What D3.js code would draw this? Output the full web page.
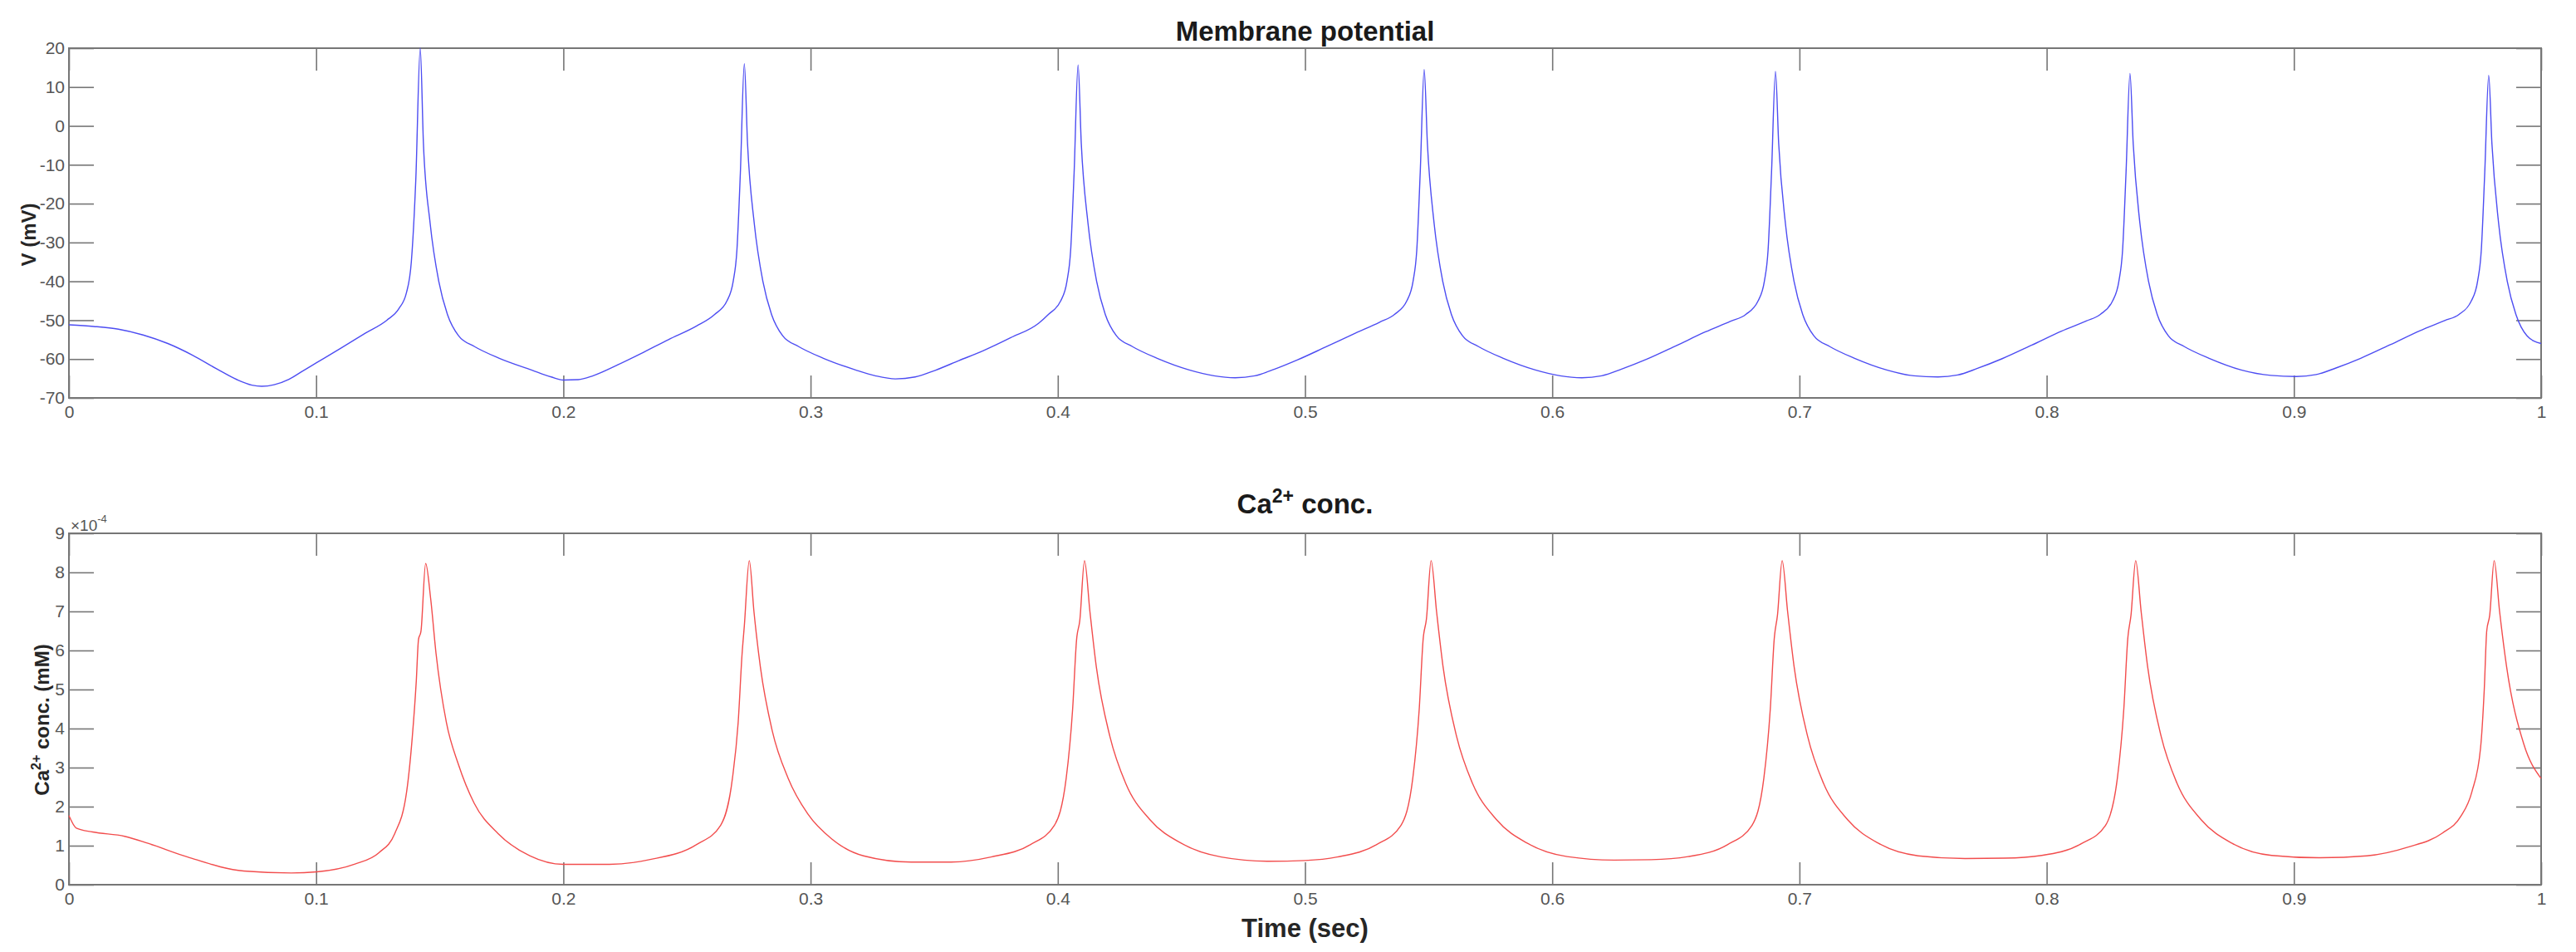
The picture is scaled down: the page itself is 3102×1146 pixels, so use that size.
<!DOCTYPE html>
<html>
<head>
<meta charset="utf-8">
<script src="https://cdn.jsdelivr.net/npm/d3@7"></script>
<style>
  html, body { margin: 0; padding: 0; background: #ffffff; }
  svg { display: block; }
  text { font-family: "Liberation Sans", Arial, Helvetica, sans-serif; }
</style>
</head>
<body>
<svg id="chart" width="3102" height="1146"></svg>
<script>
// ---------------- data ----------------
const xTickValues = [0, 0.1, 0.2, 0.3, 0.4, 0.5, 0.6, 0.7, 0.8, 0.9, 1];
const xTickLabels = ["0", "0.1", "0.2", "0.3", "0.4", "0.5", "0.6", "0.7", "0.8", "0.9", "1"];
const vTickValues = [-70, -60, -50, -40, -30, -20, -10, 0, 10, 20];
const vTickLabels = ["-70", "-60", "-50", "-40", "-30", "-20", "-10", "0", "10", "20"];
const caTickValues = [0, 1, 2, 3, 4, 5, 6, 7, 8, 9];
const caTickLabels = ["0", "1", "2", "3", "4", "5", "6", "7", "8", "9"];

// Membrane potential: time (s) and V (mV)
const timeV = [
  0, 0.01, 0.02, 0.03, 0.04, 0.05, 0.06, 0.068, 0.074, 0.078, 0.083, 0.089, 0.095, 0.1, 0.11, 0.12,
  0.1286, 0.1335, 0.1365, 0.1385, 0.1403, 0.1421,
  0.1434, 0.1461, 0.1496, 0.1531, 0.1576, 0.1641, 0.1741, 0.1871, 0.1951, 0.2, 0.206,
  0.212, 0.222, 0.2314, 0.2425, 0.2539, 0.2612, 0.2662, 0.2687, 0.2702, 0.2716, 0.2732,
  0.2745, 0.2772, 0.2807, 0.2842, 0.2887, 0.2952, 0.3052, 0.3182, 0.3262, 0.3343,
  0.3423, 0.3504, 0.36, 0.3697, 0.381, 0.3922, 0.3962, 0.4012, 0.4037, 0.4052, 0.4066, 0.4082,
  0.4095, 0.4122, 0.4157, 0.4192, 0.4237, 0.4302, 0.4402, 0.4532, 0.4632, 0.4717,
  0.4797, 0.4877, 0.497, 0.508, 0.5205, 0.5302, 0.5362, 0.5412, 0.5437, 0.5452, 0.5466, 0.5482,
  0.5495, 0.5522, 0.5557, 0.5592, 0.5637, 0.5702, 0.5802, 0.5932, 0.6032, 0.612,
  0.620, 0.628, 0.638, 0.650, 0.662, 0.672, 0.6783, 0.6833, 0.6858, 0.6873, 0.6887, 0.6903,
  0.6916, 0.6943, 0.6978, 0.7013, 0.7058, 0.7123, 0.7223, 0.7353, 0.7463, 0.756,
  0.764, 0.772, 0.782, 0.794, 0.806, 0.816, 0.8217, 0.8267, 0.8292, 0.8307, 0.8321, 0.8337,
  0.835, 0.8377, 0.8412, 0.8447, 0.8492, 0.8557, 0.8657, 0.8787, 0.8907, 0.901,
  0.909, 0.917, 0.927, 0.939, 0.951, 0.961, 0.9668, 0.9718, 0.9743, 0.9758, 0.9772, 0.9788,
  0.9801, 0.9828, 0.9863, 0.9898, 0.9943, 1.0
];
const membraneV = [
  -51.2, -51.6, -52.3, -53.8, -56.0, -59.0, -62.6, -65.3, -66.7, -67.0, -66.6, -65.2, -62.9, -61.0, -57.2, -53.3,
  -50.0, -47.0, -43.0, -35.0, -14.0, 20.0,
  -4.6, -25.0, -40.0, -48.5, -54.0, -56.8, -59.8, -62.8, -64.6, -65.4, -65.3,
  -64.3, -61.5, -58.6, -55.0, -51.5, -48.5, -45.0, -40.0, -32.0, -12.0, 16.0,
  -4.6, -25.0, -40.0, -48.5, -54.0, -56.8, -59.8, -62.8, -64.3, -65.1,
  -64.6, -62.9, -60.4, -57.9, -54.5, -50.8, -48.5, -45.0, -40.0, -32.0, -12.0, 15.7,
  -4.6, -25.0, -40.0, -48.5, -54.0, -56.8, -59.8, -62.8, -64.3, -64.8,
  -64.3, -62.6, -60.2, -57.0, -53.3, -50.5, -48.5, -45.0, -40.0, -32.0, -12.0, 14.5,
  -4.6, -25.0, -40.0, -48.5, -54.0, -56.8, -59.8, -62.8, -64.3, -64.8,
  -64.3, -62.6, -60.1, -56.6, -53.0, -50.3, -48.5, -45.0, -40.0, -32.0, -12.0, 14.0,
  -4.6, -25.0, -40.0, -48.5, -54.0, -56.8, -59.8, -62.8, -64.3, -64.6,
  -64.1, -62.4, -59.9, -56.4, -52.8, -50.2, -48.5, -45.0, -40.0, -32.0, -12.0, 13.5,
  -4.6, -25.0, -40.0, -48.5, -54.0, -56.8, -59.8, -62.8, -64.2, -64.5,
  -64.0, -62.3, -59.8, -56.3, -52.7, -50.1, -48.5, -45.0, -40.0, -32.0, -12.0, 13.0,
  -4.6, -25.0, -40.0, -48.5, -54.0, -56.0
];

// Ca2+ concentration: time (s) and value (x 1e-4 mM)
const timeCa = [
  0, 0.003, 0.0096, 0.0225, 0.032, 0.048, 0.0707, 0.09, 0.1003, 0.1157, 0.1254, 0.1318, 0.1366, 0.1389,
  0.1405, 0.1414, 0.1424, 0.1443, 0.1463, 0.1485, 0.1527, 0.1575, 0.1639, 0.1736, 0.1864, 0.2, 0.2186,
  0.2347, 0.2539, 0.2636, 0.2684, 0.2707, 0.2723, 0.2732, 0.2752, 0.2771, 0.2797, 0.2845, 0.2909, 0.2989,
  0.3086, 0.3214, 0.3407, 0.3568, 0.373, 0.389, 0.3986, 0.4034, 0.406, 0.4076, 0.4089, 0.4108, 0.413,
  0.4156, 0.4211, 0.4275, 0.4372, 0.45, 0.4661, 0.4854, 0.5, 0.513, 0.529, 0.5388, 0.5436, 0.5462, 0.5478,
  0.5491, 0.551, 0.5532, 0.5558, 0.5613, 0.5677, 0.5774, 0.590, 0.606, 0.625, 0.640, 0.655, 0.671, 0.6808,
  0.6856, 0.6882, 0.6898, 0.6911, 0.693, 0.6952, 0.6978, 0.7033, 0.7097, 0.7194, 0.732, 0.748, 0.767, 0.783,
  0.798, 0.814, 0.8238, 0.8286, 0.8312, 0.8328, 0.8341, 0.836, 0.8382, 0.8408, 0.8463, 0.8527, 0.8624,
  0.875, 0.891, 0.910, 0.9295, 0.946, 0.960, 0.9674, 0.972, 0.9755, 0.977, 0.978, 0.9792, 0.981, 0.9832,
  0.986, 0.993, 1.0
];
const caConc = [
  1.77, 1.45, 1.35, 1.24, 1.06, 0.71, 0.35, 0.30, 0.33, 0.53, 0.82, 1.31, 2.38, 3.79,
  5.21, 6.28, 6.49, 8.23, 7.34, 5.92, 4.15, 3.09, 2.09, 1.31, 0.74, 0.52, 0.52,
  0.64, 1.03, 1.52, 2.73, 4.15, 5.92, 6.63, 8.30, 6.99, 5.57, 3.94, 2.73, 1.81,
  1.17, 0.74, 0.58, 0.58, 0.71, 1.03, 1.52, 2.73, 4.50, 6.28, 6.77, 8.30, 6.99,
  5.57, 3.79, 2.59, 1.67, 1.06, 0.71, 0.60, 0.62, 0.71, 1.03, 1.52, 2.73, 4.50, 6.30,
  6.80, 8.30, 7.00, 5.60, 3.80, 2.60, 1.67, 1.06, 0.72, 0.63, 0.64, 0.72, 1.03, 1.52,
  2.73, 4.50, 6.30, 6.90, 8.30, 7.00, 5.60, 3.80, 2.60, 1.67, 1.06, 0.74, 0.67, 0.68,
  0.75, 1.05, 1.52, 2.73, 4.50, 6.30, 6.90, 8.30, 7.00, 5.60, 3.80, 2.60, 1.67,
  1.06, 0.75, 0.69, 0.74, 0.96, 1.32, 1.74, 2.38, 3.50, 5.00, 6.50, 6.90, 8.30, 7.00,
  5.60, 3.60, 2.72
];

// ---------------- drawing ----------------
const svg = d3.select("#chart");
const X0 = 83, X1 = 3060;
const axisColor = "#767676";
const labelColor = "#555555";

const xScale = d3.scaleLinear().domain([0, 1]).range([X0, X1]);

function drawPanel(cfg) {
  const y = d3.scaleLinear().domain(cfg.domain).range([cfg.yBottom, cfg.yTop]);
  const g = svg.append("g");

  const gb = g.append("g").attr("transform", `translate(0,${cfg.yBottom})`)
    .call(d3.axisBottom(xScale).tickValues(xTickValues).tickSizeInner(-27).tickSizeOuter(0)
      .tickPadding(9).tickFormat((d, i) => xTickLabels[i]));
  const gt = g.append("g").attr("transform", `translate(0,${cfg.yTop})`)
    .call(d3.axisTop(xScale).tickValues(xTickValues).tickSizeInner(-27).tickSizeOuter(0).tickFormat(""));
  const gl = g.append("g").attr("transform", `translate(${X0},0)`)
    .call(d3.axisLeft(y).tickValues(cfg.ticks).tickSizeInner(-30).tickSizeOuter(0)
      .tickPadding(5).tickFormat((d, i) => cfg.tickLabels[i]));
  const gr = g.append("g").attr("transform", `translate(${X1},0)`)
    .call(d3.axisRight(y).tickValues(cfg.ticks).tickSizeInner(-30).tickSizeOuter(0).tickFormat(""));

  [gb, gt, gl, gr].forEach(a => {
    a.select(".domain").remove();
    a.selectAll(".tick line").attr("stroke", axisColor).attr("stroke-width", 1.6);
    a.selectAll(".tick text").attr("fill", labelColor).style("font-size", "21px")
      .style("font-family", "'Liberation Sans', Arial, sans-serif");
  });

  g.append("rect").attr("x", X0).attr("y", cfg.yTop)
    .attr("width", X1 - X0).attr("height", cfg.yBottom - cfg.yTop)
    .attr("fill", "none").attr("stroke", axisColor).attr("stroke-width", 2);

  const pts = cfg.t.map((t, i) => [t, cfg.v[i]]);
  g.append("path").datum(pts)
    .attr("fill", "none").attr("stroke", cfg.color).attr("stroke-width", 1.4)
    .attr("stroke-linejoin", "round")
    .attr("d", d3.line().x(d => xScale(d[0])).y(d => y(d[1])).curve(d3.curveMonotoneX));

  return { g, y };
}

// Top panel: membrane potential
drawPanel({
  yTop: 58, yBottom: 479, domain: [-70, 20], ticks: vTickValues, tickLabels: vTickLabels,
  t: timeV, v: membraneV, color: "#4d4df2"
});
svg.append("text").attr("x", (X0 + X1) / 2).attr("y", 49)
  .attr("text-anchor", "middle").attr("font-weight", "bold").attr("font-size", 33)
  .attr("fill", "#1a1a1a").text("Membrane potential");
svg.append("text")
  .attr("transform", `translate(43,${(58 + 479) / 2 + 14}) rotate(-90)`)
  .attr("text-anchor", "middle").attr("font-weight", "bold").attr("font-size", 24)
  .attr("fill", "#262626").text("V (mV)");

// Bottom panel: Ca2+ concentration
drawPanel({
  yTop: 642, yBottom: 1065, domain: [0, 9], ticks: caTickValues, tickLabels: caTickLabels,
  t: timeCa, v: caConc, color: "#f24d4d"
});
const t2 = svg.append("text").attr("x", (X0 + X1) / 2).attr("y", 618)
  .attr("text-anchor", "middle").attr("font-weight", "bold").attr("font-size", 33)
  .attr("fill", "#1a1a1a");
t2.append("tspan").text("Ca");
t2.append("tspan").attr("dy", -13).attr("font-size", 23).text("2+");
t2.append("tspan").attr("dy", 13).text(" conc.");

const yl = svg.append("text")
  .attr("transform", `translate(59,${(642 + 1065) / 2 + 13}) rotate(-90)`)
  .attr("text-anchor", "middle").attr("font-weight", "bold").attr("font-size", 24)
  .attr("fill", "#262626");
yl.append("tspan").text("Ca");
yl.append("tspan").attr("dy", -10).attr("font-size", 16).text("2+");
yl.append("tspan").attr("dy", 10).text(" conc. (mM)");

const ex = svg.append("text").attr("x", 85).attr("y", 639)
  .attr("font-size", 19).attr("fill", labelColor);
ex.append("tspan").text("\u00d710");
ex.append("tspan").attr("dy", -10).attr("font-size", 13).text("-4");

svg.append("text").attr("x", (X0 + X1) / 2).attr("y", 1128)
  .attr("text-anchor", "middle").attr("font-weight", "bold").attr("font-size", 31)
  .attr("fill", "#262626").text("Time (sec)");
</script>
</body>
</html>
